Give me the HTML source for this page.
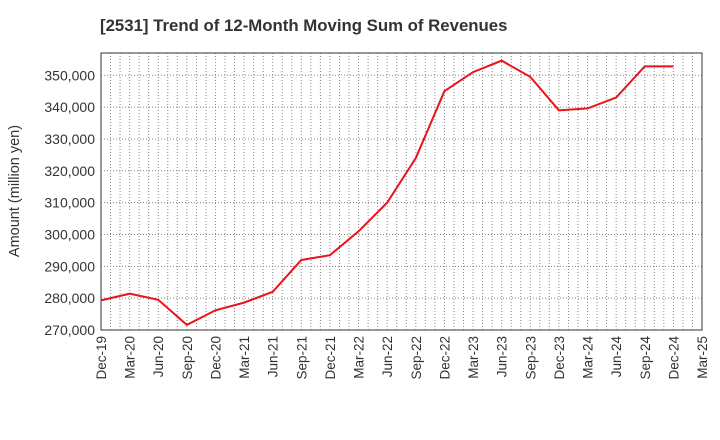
<!DOCTYPE html>
<html><head><meta charset="utf-8"><style>
html,body{margin:0;padding:0;background:#fff;width:720px;height:440px;overflow:hidden}
text{font-family:"Liberation Sans",Arial,sans-serif}
</style></head><body>
<svg id="chart" width="720" height="440">
<text x="100" y="31" font-size="16.8" font-weight="bold" fill="#333">[2531]  Trend of 12-Month Moving Sum of Revenues</text>
<text transform="translate(19,191) rotate(-90)" text-anchor="middle" font-size="14.5" fill="#333">Amount (million yen)</text>
<g id="grid"></g><g id="axes"></g><g id="series"></g>
</svg>
<script>
const categories=["Dec-19","Mar-20","Jun-20","Sep-20","Dec-20","Mar-21","Jun-21","Sep-21","Dec-21","Mar-22","Jun-22","Sep-22","Dec-22","Mar-23","Jun-23","Sep-23","Dec-23","Mar-24","Jun-24","Sep-24","Dec-24","Mar-25"];
const revenues=[279300,281400,279500,271600,276200,278600,282000,292000,293500,301000,310000,324000,345000,351000,354600,349500,339000,339600,343000,352800,352800];
const yTicks=[270000,280000,290000,300000,310000,320000,330000,340000,350000];
const L=101,R=702,T=53,B=330,yMin=270000,yMax=357000;
const ns="http://www.w3.org/2000/svg";
const xs=i=>L+(R-L)*i/(categories.length-1);
const ys=v=>B-(v-yMin)/(yMax-yMin)*(B-T);
function mk(tag,attrs,parent){const e=document.createElementNS(ns,tag);for(const k in attrs)e.setAttribute(k,attrs[k]);document.getElementById(parent).appendChild(e);return e;}
const nm=(categories.length-1)*3;
for(let m=1;m<nm;m++){const x=L+(R-L)*m/nm;
const g=mk('line',{x1:x,x2:x,y1:T,y2:B,stroke:'#888','stroke-width':1,'stroke-dasharray':'1,2'},'grid');

}
yTicks.forEach(v=>{const y=ys(v);
const g=mk('line',{x1:L,x2:R,y1:y,y2:y,stroke:'#888','stroke-width':1,'stroke-dasharray':'1,2'},'grid');


const t=mk('text',{x:L-6,y:y+5,'text-anchor':'end','font-size':14,fill:'#333'},'axes');t.textContent=v.toLocaleString('en-US');

});
categories.forEach((c,i)=>{const x=xs(i);
const t=mk('text',{transform:`translate(${x+5},${B+6}) rotate(-90)`,'text-anchor':'end','font-size':13.5,fill:'#333'},'axes');t.textContent=c;

});
const fr=mk('rect',{x:L,y:T,width:R-L,height:B-T,fill:'none',stroke:'#333','stroke-width':1},'axes');


const p=mk('polyline',{points:revenues.map((v,i)=>xs(i)+','+ys(v)).join(' '),fill:'none',stroke:'#e8141a','stroke-width':2},'series');


</script>
</body></html>
